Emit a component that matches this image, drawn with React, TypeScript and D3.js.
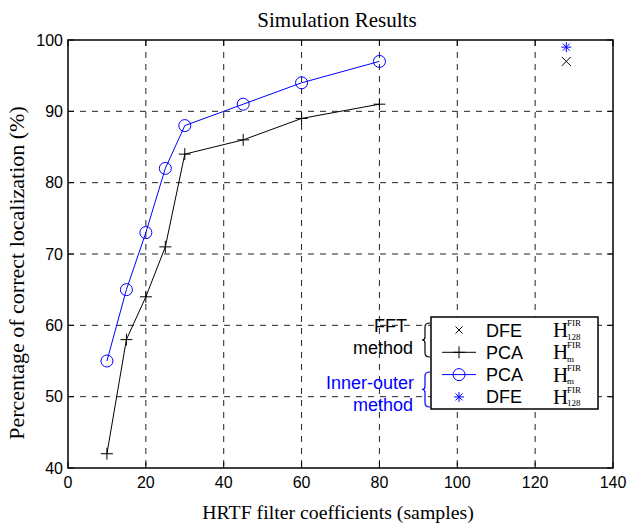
import React, { useEffect, useRef } from "react";
import * as d3 from "d3";

const pcaX = [10, 15, 20, 25, 30, 45, 60, 80];
const pcaFft = [42, 58, 64, 71, 84, 86, 89, 91];
const pcaInner = [55, 65, 73, 82, 88, 91, 94, 97];
const dfeX = [128];
const dfeFft = [97];
const dfeInner = [99];
const xTicks = [0, 20, 40, 60, 80, 100, 120, 140];
const yTicks = [40, 50, 60, 70, 80, 90, 100];

const BLUE = "#0000ff";
const SANS = "Liberation Sans, Arial, sans-serif";
const SERIF = "Liberation Serif, Times New Roman, serif";

const App = () => {
  const ref = useRef<SVGSVGElement>(null);

  useEffect(() => {
    const svg = d3.select(ref.current);
    svg.selectAll("*").remove();

    const width = 630, height = 526;
    const left = 68, right = 613, top = 40, bottom = 468;
    svg.attr("width", width).attr("height", height);

    const x = d3.scaleLinear().domain([0, 140]).range([left, right]);
    const y = d3.scaleLinear().domain([40, 100]).range([bottom, top]);

    // grid
    xTicks.slice(1, -1).forEach((t) => {
      svg.append("line")
        .attr("x1", x(t)).attr("x2", x(t)).attr("y1", top).attr("y2", bottom)
        .attr("stroke", "#222").attr("stroke-dasharray", "6,6").attr("stroke-width", 1);
    });
    yTicks.slice(1, -1).forEach((t) => {
      svg.append("line")
        .attr("x1", left).attr("x2", right).attr("y1", y(t)).attr("y2", y(t))
        .attr("stroke", "#222").attr("stroke-dasharray", "6,6").attr("stroke-width", 1);
    });

    // ticks on all sides
    const tl = 6;
    xTicks.forEach((t) => {
      svg.append("line").attr("x1", x(t)).attr("x2", x(t)).attr("y1", bottom).attr("y2", bottom - tl).attr("stroke", "#000");
      svg.append("line").attr("x1", x(t)).attr("x2", x(t)).attr("y1", top).attr("y2", top + tl).attr("stroke", "#000");
      svg.append("text").attr("x", x(t)).attr("y", bottom + 20)
        .attr("text-anchor", "middle").attr("font-family", SANS)
        .attr("font-size", 16).text(t);
    });
    yTicks.forEach((t) => {
      svg.append("line").attr("x1", left).attr("x2", left + tl).attr("y1", y(t)).attr("y2", y(t)).attr("stroke", "#000");
      svg.append("line").attr("x1", right).attr("x2", right - tl).attr("y1", y(t)).attr("y2", y(t)).attr("stroke", "#000");
      svg.append("text").attr("x", left - 5).attr("y", y(t) + 5.5)
        .attr("text-anchor", "end").attr("font-family", SANS)
        .attr("font-size", 16).text(t);
    });

    svg.append("rect")
      .attr("x", left).attr("y", top).attr("width", right - left).attr("height", bottom - top)
      .attr("fill", "none").attr("stroke", "#000").attr("stroke-width", 1.5);

    // titles
    svg.append("text").attr("x", 337).attr("y", 27)
      .attr("text-anchor", "middle").attr("font-family", SERIF)
      .attr("font-size", 21).text("Simulation Results");
    svg.append("text").attr("x", 338).attr("y", 519)
      .attr("text-anchor", "middle").attr("font-family", SERIF)
      .attr("font-size", 19.8).text("HRTF filter coefficients (samples)");
    svg.append("text")
      .attr("transform", `translate(24, 273) rotate(-90)`)
      .attr("text-anchor", "middle").attr("font-family", SERIF)
      .attr("font-size", 22).text("Percentage of correct localization (%)");

    const line = d3.line<number>().x((d, i) => x(pcaX[i])).y((d) => y(d));

    const plus = (cx: number, cy: number, color: string, s = 6) => {
      svg.append("path").attr("d", `M${cx - s},${cy}H${cx + s}M${cx},${cy - s}V${cy + s}`)
        .attr("stroke", color).attr("stroke-width", 1).attr("fill", "none");
    };
    const circ = (cx: number, cy: number) => {
      svg.append("circle").attr("cx", cx).attr("cy", cy).attr("r", 6)
        .attr("fill", "none").attr("stroke", BLUE).attr("stroke-width", 1);
    };
    const cross = (cx: number, cy: number, color: string, s = 4.5) => {
      svg.append("path").attr("d", `M${cx - s},${cy - s}L${cx + s},${cy + s}M${cx - s},${cy + s}L${cx + s},${cy - s}`)
        .attr("stroke", color).attr("stroke-width", 1).attr("fill", "none");
    };
    const star = (cx: number, cy: number, color: string) => {
      plus(cx, cy, color, 5);
      cross(cx, cy, color, 3.5);
    };

    // PCA FFT
    svg.append("path").datum(pcaFft).attr("d", line).attr("fill", "none").attr("stroke", "#000").attr("stroke-width", 1);
    pcaFft.forEach((v, i) => plus(x(pcaX[i]), y(v), "#000"));

    // PCA inner-outer
    svg.append("path").datum(pcaInner).attr("d", line).attr("fill", "none").attr("stroke", BLUE).attr("stroke-width", 1);
    pcaInner.forEach((v, i) => circ(x(pcaX[i]), y(v)));

    // DFE points
    dfeFft.forEach((v, i) => cross(x(dfeX[i]), y(v), "#000"));
    dfeInner.forEach((v, i) => star(x(dfeX[i]), y(v), BLUE));

    // legend
    const lx = 431, ly = 317, lw = 167, lh = 92;
    svg.append("rect").attr("x", lx).attr("y", ly).attr("width", lw).attr("height", lh)
      .attr("fill", "#fff").attr("stroke", "#000").attr("stroke-width", 1.5);
    const rows = [
      { name: "DFE", sub: "128", color: "#000", kind: "x" },
      { name: "PCA", sub: "m", color: "#000", kind: "+" },
      { name: "PCA", sub: "m", color: BLUE, kind: "o" },
      { name: "DFE", sub: "128", color: BLUE, kind: "*" },
    ];
    rows.forEach((r, i) => {
      const cy = ly + 13 + i * 22.3;
      const mx = 459;
      if (r.kind === "+" || r.kind === "o") {
        svg.append("line").attr("x1", 442).attr("x2", 476).attr("y1", cy).attr("y2", cy)
          .attr("stroke", r.color).attr("stroke-width", 1);
      }
      if (r.kind === "x") cross(mx, cy, r.color, 3.5);
      if (r.kind === "+") plus(mx, cy, r.color);
      if (r.kind === "o") circ(mx, cy);
      if (r.kind === "*") star(mx, cy, r.color);
      svg.append("text").attr("x", 486).attr("y", cy + 6.5)
        .attr("font-family", SANS).attr("font-size", 18)
        .attr("fill", "#000").text(r.name);
      svg.append("text").attr("x", 553).attr("y", cy + 7)
        .attr("font-family", SERIF).attr("font-size", 21).attr("fill", "#000").text("H");
      svg.append("text").attr("x", 567).attr("y", cy - 4)
        .attr("font-family", SERIF).attr("font-size", 9).text("FIR");
      svg.append("text").attr("x", 567).attr("y", cy + 9.5)
        .attr("font-family", SERIF).attr("font-size", 9).text(r.sub);
    });

    // braces and method labels
    const brace = (bx: number, y0: number, y1: number, color: string) => {
      const m = (y0 + y1) / 2;
      const w = 5;
      svg.append("path")
        .attr("d", `M${bx + w},${y0} Q${bx},${y0} ${bx},${y0 + 4} L${bx},${m - 3} Q${bx},${m} ${bx - 3},${m} Q${bx},${m} ${bx},${m + 3} L${bx},${y1 - 4} Q${bx},${y1} ${bx + w},${y1}`)
        .attr("fill", "none").attr("stroke", color).attr("stroke-width", 1.2);
    };
    brace(425, 323, 357, "#000");
    brace(425, 372, 407, BLUE);
    const lbl = (tx: number, ty: number, s: string, color: string) => {
      svg.append("text").attr("x", tx).attr("y", ty).attr("text-anchor", "end")
        .attr("font-family", SANS).attr("font-size", 18)
        .attr("fill", color).text(s);
    };
    lbl(407, 332, "FFT", "#000");
    lbl(413, 354, "method", "#000");
    lbl(414, 389, "Inner-outer", BLUE);
    lbl(413, 411, "method", BLUE);
  }, []);

  return <svg ref={ref} style={{ position: "absolute", left: 0, top: 0 }}></svg>;
};

export default App;
